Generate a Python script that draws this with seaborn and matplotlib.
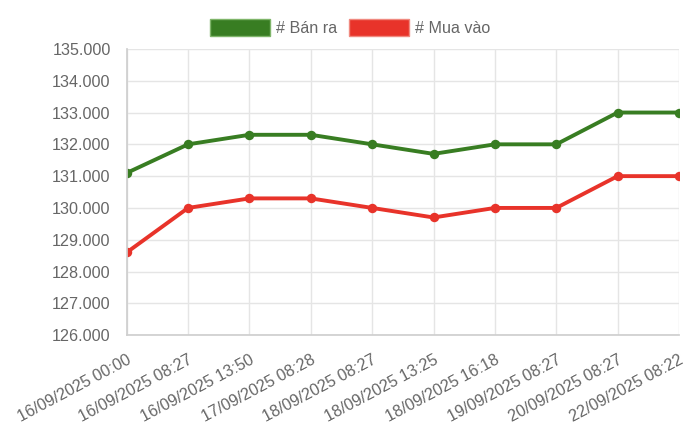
import matplotlib
matplotlib.use("Agg")
import matplotlib.pyplot as plt
import seaborn as sns
import pandas as pd
from matplotlib.patches import Patch
from matplotlib.ticker import FuncFormatter, MultipleLocator

labels = ["16/09/2025 00:00", "16/09/2025 08:27", "16/09/2025 13:50", "17/09/2025 08:28",
          "18/09/2025 08:27", "18/09/2025 13:25", "18/09/2025 16:18", "19/09/2025 08:27",
          "20/09/2025 08:27", "22/09/2025 08:22"]
ban_ra = [131100, 132000, 132300, 132300, 132000, 131700, 132000, 132000, 133000, 133000]
mua_vao = [128600, 130000, 130300, 130300, 130000, 129700, 130000, 130000, 131000, 131000]
series_names = ["# Bán ra", "# Mua vào"]
colors = ["#387d22", "#e8332a"]

sns.set_theme(style="white")
plt.rcParams['font.family'] = ['Liberation Sans', 'DejaVu Sans']

df = pd.DataFrame({"idx": list(range(len(labels))) * 2,
                   "value": ban_ra + mua_vao,
                   "series": [series_names[0]] * len(labels) + [series_names[1]] * len(labels)})

fig = plt.figure(figsize=(7, 4.33), dpi=100)
ax = fig.add_axes([0.181, 0.226, 0.789, 0.661])

sns.lineplot(data=df, x="idx", y="value", hue="series", palette=colors, marker="o",
             markersize=6.8, markeredgewidth=0, linewidth=2.8, ax=ax, legend=False)

ax.set_xlim(0, len(labels) - 1)
ax.set_ylim(126000, 135000)
ax.yaxis.set_major_locator(MultipleLocator(1000))
ax.yaxis.set_major_formatter(FuncFormatter(lambda v, p: f"{v/1000:.3f}"))
ax.set_xticks(range(len(labels)))
ax.set_xticklabels(labels, rotation=28, ha="right", rotation_mode="anchor")
ax.set_xlabel("")
ax.set_ylabel("")
ax.grid(True, color="#e5e5e5", linewidth=1)
for s in ax.spines.values():
    s.set_visible(False)
ax.spines['left'].set_visible(True)
ax.spines['bottom'].set_visible(True)
ax.spines['left'].set_color("#cfcfcf")
ax.spines['bottom'].set_color("#cfcfcf")
ax.tick_params(axis="both", length=6.5, color="#e5e5e5", labelsize=11.6, labelcolor="#666666")
ax.tick_params(axis="y", pad=5)
ax.tick_params(axis="x", pad=6)

handles = [Patch(facecolor=colors[0], edgecolor="#7fb56a", label=series_names[0]),
           Patch(facecolor=colors[1], edgecolor="#f08a80", label=series_names[1])]
leg = fig.legend(handles=handles, loc="center", bbox_to_anchor=(0.5, 0.937), ncol=2, frameon=False,
                 handlelength=3.7, handleheight=1.24, handletextpad=0.37, columnspacing=0.75,
                 fontsize=11.6, borderpad=0.2)
for t in leg.get_texts():
    t.set_color("#666666")

fig.savefig("out.png", dpi=100)
